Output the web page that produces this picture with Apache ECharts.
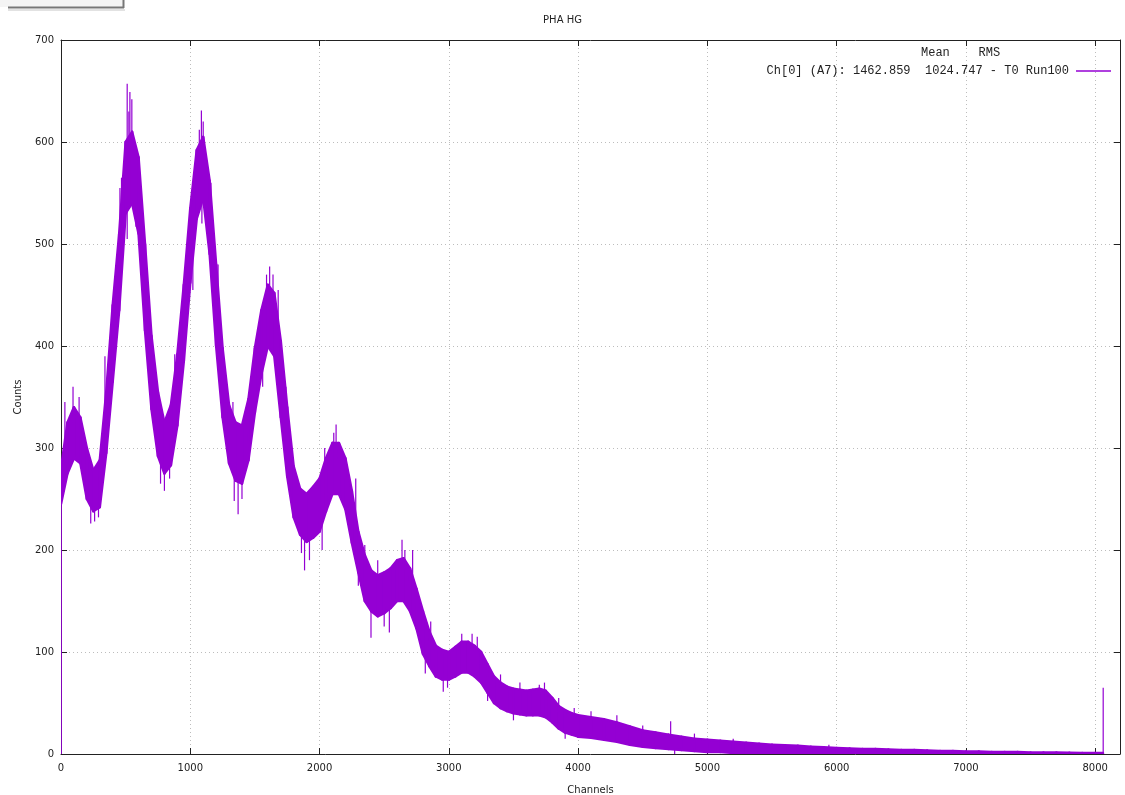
<!DOCTYPE html>
<html>
<head>
<meta charset="utf-8">
<script src="https://cdn.jsdelivr.net/npm/echarts@6/dist/echarts.min.js"></script>
<style>
html,body{margin:0;padding:0;background:#fff;}
#chart{width:1125px;height:795px;}
</style>
</head>
<body>
<div id="chart"></div>
<script>
// ---- data (envelope of the noisy histogram) ----
const channels = [0,50,100,150,200,250,300,350,400,450,500,550,600,650,700,750,800,850,900,950,
  1000,1050,1100,1150,1200,1250,1300,1350,1400,1450,1500,1550,1600,1650,1700,1750,1800,1850,1900,1950,
  2000,2050,2100,2150,2200,2250,2300,2350,2400,2450,2500,2550,2600,2650,2700,2750,2800,2850,2900,2950,
  3000,3050,3100,3150,3200,3250,3300,3350,3400,3450,3500,3550,3600,3650,3700,3750,3800,3850,3900,3950,
  4000,4100,4200,4300,4400,4500,4600,4700,4800,4900,5000,5100,5200,5300,5400,5500,5600,5700,5800,5900,
  6000,6100,6200,6300,6400,6500,6600,6700,6800,6900,7000,7100,7200,7300,7400,7500,7600,7700,7800,7900,
  8000,8060];
const upperCounts = [280,325,340,330,300,278,288,355,440,510,600,610,585,500,410,355,325,342,392,460,
  535,592,605,562,480,398,342,325,322,348,398,435,460,452,405,340,282,260,255,262,
  270,290,305,305,290,258,218,195,180,175,178,182,190,192,182,162,140,120,106,102,
  100,105,110,110,106,100,88,76,70,66,64,63,62,63,64,62,55,47,43,40,
  38,36,34,31,27,23,21,19,17,15,14,13,12,11,10,9,8.5,8,7,6.5,
  6,5.5,5,5,4.5,4,4,3.5,3,3,2.5,2.5,2,2,2,1.5,1.5,1.5,1.2,1,
  1,1];
const lowerCounts = [245,275,290,285,250,238,242,295,365,435,530,540,510,415,338,292,275,283,322,385,
  462,525,545,490,400,330,285,268,265,288,335,372,400,390,330,272,232,215,208,212,
  218,238,255,255,240,207,178,150,140,135,138,143,150,150,140,123,98,86,76,73,
  73,76,80,80,76,70,60,50,45,42,40,39,38,38,38,36,31,25,21,19,
  17,16,14,12,9,7,6,5,4,3,2,2,1,1,1,0,0,0,0,0,
  0,0,0,0,0,0,0,0,0,0,0,0,0,0,0,0,0,0,0,0,
  0,0];
// isolated spikes sticking out of the band
const spikeChannels = [2,30,93,140,230,260,290,340,456,468,512,525,533,548,512,580,640,770,800,840,
  1070,1086,1100,1090,1130,1330,1340,1370,1400,1590,1614,1640,1860,1884,1922,2110,2128,2350,2398,2540,
  2638,2660,2818,2957,2990,3180,3220,3700,3740,3970,4716,4747,5940,8062,
  880,960,1160,1215,1470,1680,1740,2040,2280,2450,2720,2860,3100,3400,3550,3850,4100,4300,4500,4900,5200,
  1020,1260,1560,2020,2300,2500,2780,3300,3500,3900];
const spikeCounts = [0,345,360,350,226,228,232,390,555,565,657,630,649,642,505,517,440,265,258,270,
  612,631,620,520,510,345,248,235,250,470,478,470,197,180,190,315,323,205,114,119,
  210,200,79,61,65,118,115,68,70,45,32,0,9,65,
  392,470,560,480,370,455,360,300,270,190,200,130,118,78,70,55,42,38,28,20,15,
  455,320,360,200,165,125,110,52,33,15];
const xTicks = [0,1000,2000,3000,4000,5000,6000,7000,8000];
const yTicks = [0,100,200,300,400,500,600,700];

const seriesName = 'Ch[0] (A7): 1462.859  1024.747 - T0 Run100';
const color = '#9400d3';

const bandData = [];
for (let i = 0; i < channels.length - 1; i++) {
  bandData.push([channels[i], upperCounts[i], lowerCounts[i], channels[i+1], upperCounts[i+1], lowerCounts[i+1]]);
}
function nearestIndex(ch) {
  let best = 0;
  for (let i = 0; i < channels.length; i++) {
    if (Math.abs(channels[i] - ch) < Math.abs(channels[best] - ch)) best = i;
  }
  return best;
}
const spikeData = spikeChannels.map((c, i) => {
  const k = nearestIndex(c);
  return [c, spikeCounts[i], (upperCounts[k] + lowerCounts[k]) / 2];
});

const chart = echarts.init(document.getElementById('chart'), null, {renderer: 'canvas'});
const labelFont = 'DejaVu Sans';
const axisCol = '#222';
const common = {
  min: 0,
  axisLine: {show: true, onZero: false, lineStyle: {color: axisCol, width: 1}},
  axisTick: {show: true, inside: true, length: 6, lineStyle: {color: axisCol}},
};
chart.setOption({
  animation: false,
  backgroundColor: '#fff',
  title: {
    text: 'PHA HG', left: 'center', top: 10,
    textStyle: {fontFamily: labelFont, fontSize: 10, fontWeight: 'normal', color: '#222'}
  },
  grid: {left: 61, right: 5, top: 40, bottom: 41, containLabel: false, outerBoundsMode: 'none'},
  legend: {
    show: true, right: 9, top: 60, orient: 'vertical', align: 'right',
    itemWidth: 35, itemHeight: 1.5, itemGap: 0,
    data: [{name: seriesName, icon: 'rect', itemStyle: {color: color}}],
    textStyle: {fontFamily: 'Liberation Mono', fontSize: 12, color: '#222', padding: [0, 2, 0, 0]},
    selectedMode: false
  },
  graphic: [
    {type: 'text', left: 921, top: 47, style: {text: 'Mean    RMS', font: '12px "Liberation Mono"', fill: '#222'}},
    {type: 'rect', shape: {x: 0, y: 0, width: 123, height: 7}, style: {fill: '#f4f4f4'}},
    {type: 'line', shape: {x1: 8, y1: 7.5, x2: 124, y2: 7.5}, style: {stroke: '#777', lineWidth: 2}},
    {type: 'line', shape: {x1: 123.5, y1: 0, x2: 123.5, y2: 8}, style: {stroke: '#777', lineWidth: 2}},
    {type: 'line', shape: {x1: 8, y1: 10, x2: 125, y2: 10}, style: {stroke: '#e2e2e2', lineWidth: 2}}
  ],
  xAxis: [
    Object.assign({}, common, {
      type: 'value', max: 8192, interval: 1000, position: 'bottom',
      name: 'Channels', nameLocation: 'middle', nameGap: 31,
      nameTextStyle: {fontFamily: labelFont, fontSize: 10, color: '#222'},
      axisLabel: {
        margin: 9, fontFamily: labelFont, fontSize: 10, color: '#222',
        formatter: v => xTicks.indexOf(v) >= 0 ? String(v) : ''
      },
      splitLine: {show: true, lineStyle: {color: '#bdbdbd', type: [1, 3], width: 1}}
    }),
    Object.assign({}, common, {
      type: 'value', max: 8192, interval: 1000, position: 'top',
      axisLabel: {show: false}, splitLine: {show: false}
    })
  ],
  yAxis: [
    Object.assign({}, common, {
      type: 'value', max: 700, interval: 100, position: 'left',
      name: 'Counts', nameLocation: 'middle', nameGap: 38, nameRotate: 90,
      nameTextStyle: {fontFamily: labelFont, fontSize: 10, color: '#222'},
      axisLabel: {
        margin: 7, fontFamily: labelFont, fontSize: 10, color: '#222',
        formatter: v => yTicks.indexOf(v) >= 0 ? String(v) : ''
      },
      splitLine: {show: true, lineStyle: {color: '#bdbdbd', type: [1, 3], width: 1}}
    }),
    Object.assign({}, common, {
      type: 'value', max: 700, interval: 100, position: 'right',
      axisLabel: {show: false}, splitLine: {show: false}
    })
  ],
  series: [
    {
      type: 'custom', name: 'spikes', xAxisIndex: 0, yAxisIndex: 0,
      data: spikeData, clip: true, silent: true,
      encode: {x: 0, y: [1, 2]},
      renderItem: function (params, api) {
        const p1 = api.coord([api.value(0), api.value(1)]);
        const p2 = api.coord([api.value(0), api.value(2)]);
        return {type: 'line', shape: {x1: p1[0], y1: p1[1], x2: p2[0], y2: p2[1]},
          style: {stroke: color, lineWidth: 1.2}};
      }
    },
    {
      type: 'custom', name: seriesName, xAxisIndex: 0, yAxisIndex: 0,
      data: bandData, clip: true, silent: true,
      encode: {x: [0, 3], y: [1, 2, 4, 5]},
      renderItem: function (params, api) {
        const a = api.coord([api.value(0), api.value(1)]);
        const b = api.coord([api.value(3), api.value(4)]);
        const c = api.coord([api.value(3), api.value(5)]);
        const d = api.coord([api.value(0), api.value(2)]);
        return {type: 'polygon', shape: {points: [a, b, c, d]},
          style: {fill: color, stroke: color, lineWidth: 2.5, lineJoin: 'round'}};
      }
    }
  ]
});
</script>
</body>
</html>
